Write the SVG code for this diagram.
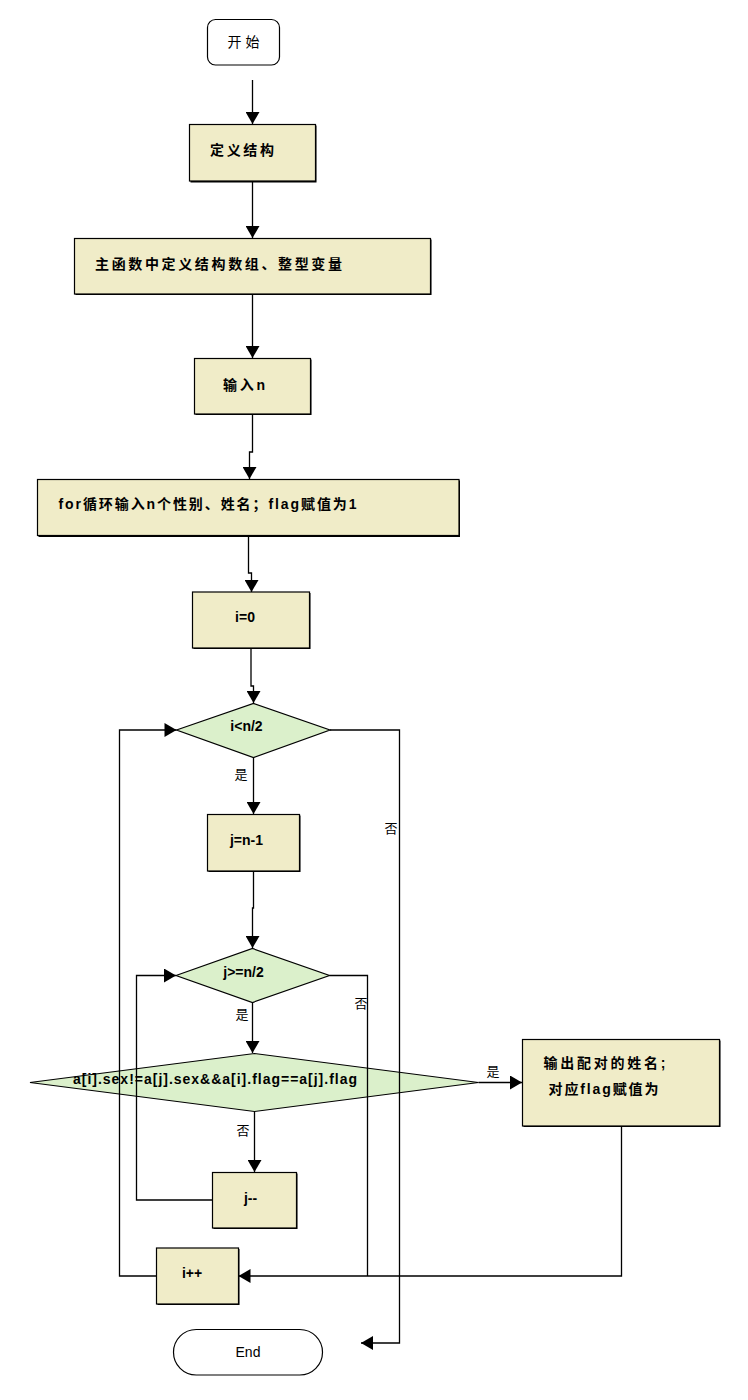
<svg xmlns="http://www.w3.org/2000/svg" width="748" height="1400" viewBox="0 0 748 1400">
<style>
.box{fill:#f0ecc8;stroke:#000;stroke-width:1.2}
.sh{fill:#000}
.dia{fill:#dbf0cb;stroke:#000;stroke-width:1.2}
.term{fill:#fff;stroke:#000;stroke-width:1.2}
.t{font-family:"Liberation Sans","Noto Sans CJK SC",sans-serif;font-size:14px;font-weight:bold;fill:#000}
.n{font-family:"Liberation Sans","Noto Sans CJK SC",sans-serif;font-size:14px;fill:#000}
.lbl{font-family:"Noto Sans CJK SC",sans-serif;font-size:13px;fill:#000}
.c{fill:none;stroke:#000;stroke-width:1.3}
</style>
<defs>
<marker id="ah" markerUnits="userSpaceOnUse" markerWidth="14" markerHeight="14" viewBox="0 0 14 14" refX="13" refY="7" orient="auto">
<path d="M1,0 L13,7 L1,14 z" fill="#000"/>
</marker>
</defs>
<rect width="748" height="1400" fill="#fff"/>
<g id="start">
<rect class="term" x="207.5" y="19.5" width="72" height="45.5" rx="8"/>
<text class="n" x="243.5" y="47" text-anchor="middle" textLength="32">开始</text>
</g>
<g id="n_define">
<rect class="sh" x="190.5" y="125.5" width="126" height="57"/>
<rect class="box" x="189.5" y="124.5" width="126" height="56.5"/>
<text class="t" x="210" y="155" textLength="64">定义结构</text>
</g>
<g id="n_main">
<rect class="sh" x="75.5" y="239.5" width="356" height="55.5"/>
<rect class="box" x="74.5" y="238.5" width="356" height="55.5"/>
<text class="t" x="95" y="269" textLength="247">主函数中定义结构数组、整型变量</text>
</g>
<g id="n_input">
<rect class="sh" x="195.5" y="359.5" width="116" height="55.5"/>
<rect class="box" x="194.5" y="358.5" width="116" height="55.5"/>
<text class="t" x="223" y="390" textLength="42">输入n</text>
</g>
<g id="n_for">
<rect class="sh" x="38.5" y="480.5" width="421.5" height="56.5"/>
<rect class="box" x="37.5" y="479.5" width="421.5" height="56"/>
<text class="t" x="58.5" y="509" textLength="298">for循环输入n个性别、姓名；flag赋值为1</text>
</g>
<g id="n_i0">
<rect class="sh" x="193.5" y="593" width="117" height="56"/>
<rect class="box" x="192.5" y="592" width="117" height="56"/>
<text class="t" x="245" y="622" text-anchor="middle">i=0</text>
</g>
<g id="d_i">
<polygon class="dia" points="176.5,730 253.5,703.5 330,730 253.5,757.5"/>
<text class="t" x="246.5" y="731" text-anchor="middle">i&lt;n/2</text>
</g>
<g id="n_jn1">
<rect class="sh" x="208.5" y="815.5" width="92" height="56.5"/>
<rect class="box" x="207.5" y="814.5" width="92" height="56.5"/>
<text class="t" x="246.5" y="845" text-anchor="middle">j=n-1</text>
</g>
<g id="d_j">
<polygon class="dia" points="176,975.5 252.5,948.5 329.5,975.5 252.5,1002.5"/>
<text class="t" x="243.5" y="977" text-anchor="middle">j&gt;=n/2</text>
</g>
<g id="d_big">
<polygon class="dia" points="30,1082.5 254.5,1053.5 478.5,1082.5 254.5,1111.5"/>
<text class="t" x="73" y="1084" textLength="284">a[i].sex!=a[j].sex&amp;&amp;a[i].flag==a[j].flag</text>
</g>
<g id="n_out">
<rect class="sh" x="523.5" y="1040.5" width="197" height="86.5"/>
<rect class="box" x="522.5" y="1039.5" width="197" height="86.5"/>
<text class="t" x="543.5" y="1068" textLength="122">输出配对的姓名;</text>
<text class="t" x="548.5" y="1094" textLength="110">对应flag赋值为</text>
</g>
<g id="n_jdec">
<rect class="sh" x="213.5" y="1173.5" width="84" height="55.5"/>
<rect class="box" x="212.5" y="1172.5" width="84" height="55.5"/>
<text class="t" x="250.5" y="1203" text-anchor="middle">j--</text>
</g>
<g id="n_iinc">
<rect class="sh" x="157.5" y="1249" width="82" height="56"/>
<rect class="box" x="156.5" y="1248" width="82" height="56"/>
<text class="t" x="192" y="1278" text-anchor="middle">i++</text>
</g>
<g id="end">
<rect class="term" x="173.5" y="1329.5" width="149" height="45.5" rx="22.75"/>
<text class="n" x="248" y="1356.5" text-anchor="middle">End</text>
</g>
<g id="connectors">
<path class="c" d="M252.5,80 V124" marker-end="url(#ah)"/>
<path class="c" d="M252.5,181 V238" marker-end="url(#ah)"/>
<path class="c" d="M252.5,294 V358" marker-end="url(#ah)"/>
<path class="c" d="M252.5,414 V452 H249.5 V479" marker-end="url(#ah)"/>
<path class="c" d="M248.5,536 V573 H251.5 V592" marker-end="url(#ah)"/>
<path class="c" d="M251,648 V686 H253.5 V703" marker-end="url(#ah)"/>
<path class="c" d="M253.5,758 V814" marker-end="url(#ah)"/>
<path class="c" d="M253.5,871 V908 H252.5 V948" marker-end="url(#ah)"/>
<path class="c" d="M252.5,1002.5 V1053" marker-end="url(#ah)"/>
<path class="c" d="M254.5,1112 V1172" marker-end="url(#ah)"/>
<path class="c" d="M212.5,1200 H136.5 V975.5 H176" marker-end="url(#ah)"/>
<path class="c" d="M329.5,975.5 H367.5 V1276"/>
<path class="c" d="M478.5,1082.5 H522" marker-end="url(#ah)"/>
<path class="c" d="M621.5,1126 V1276 H238.5" marker-end="url(#ah)"/>
<path class="c" d="M156.5,1276 H119.5 V730 H176.5" marker-end="url(#ah)"/>
<path class="c" d="M330,730 H399.5 V1343 H361" marker-end="url(#ah)"/>
<text class="lbl" x="241" y="779" text-anchor="middle">是</text>
<text class="lbl" x="391" y="833" text-anchor="middle">否</text>
<text class="lbl" x="242" y="1019" text-anchor="middle">是</text>
<text class="lbl" x="361" y="1008" text-anchor="middle">否</text>
<text class="lbl" x="493" y="1076" text-anchor="middle">是</text>
<text class="lbl" x="243" y="1135" text-anchor="middle">否</text>
</g>
</svg>
